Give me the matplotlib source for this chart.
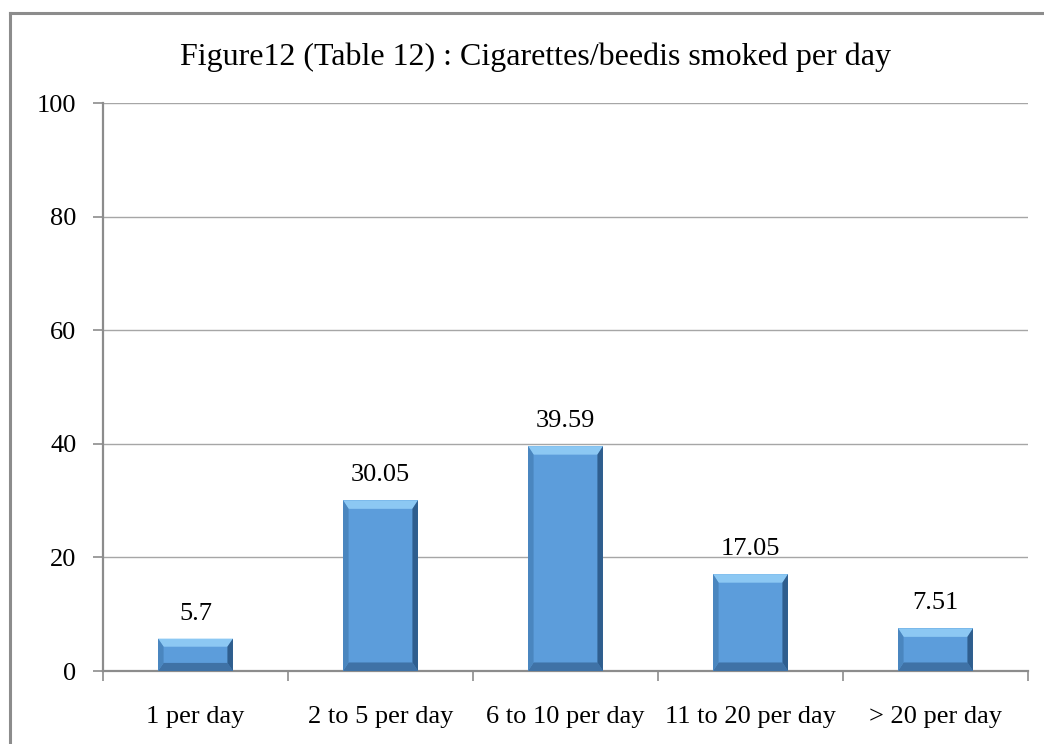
import matplotlib.pyplot as plt
from matplotlib.patches import Polygon
from matplotlib.lines import Line2D

categories = ['1 per day', '2 to 5 per day', '6 to 10 per day', '11 to 20 per day', '> 20 per day']
values = [5.7, 30.05, 39.59, 17.05, 7.51]
title = 'Figure12 (Table 12) : Cigarettes/beedis smoked per day'

plt.rcParams['font.family'] = ['Liberation Serif', 'DejaVu Serif']

fig = plt.figure(figsize=(10.44, 7.44), dpi=100)
ax = fig.add_axes([103/1044, 1 - 671/744, 925/1044, 568/744])

# chart frame (only left and top edges fall inside the image)
fig.add_artist(Line2D([10/1044, 10/1044], [0, 1 - 13/744], color='#8c8c8c', lw=2.2,
                      transform=fig.transFigure))
fig.add_artist(Line2D([10/1044, 1], [1 - 13/744, 1 - 13/744], color='#8c8c8c', lw=2.2,
                      transform=fig.transFigure))

fig.text(535/1044, 1 - 57/744, title, ha='center', va='center', fontsize=23)

ax.set_xlim(0, 5)
ax.set_ylim(0, 100)
ax.set_yticks(range(0, 101, 20))
ax.yaxis.grid(True, color='#a6a6a6', lw=1)
ax.set_axisbelow(True)
for s in ['top', 'right']:
    ax.spines[s].set_visible(False)
for s in ['left', 'bottom']:
    ax.spines[s].set_color('#8c8c8c')
    ax.spines[s].set_linewidth(1.6)

ax.set_xticks(range(6))
ax.set_xticklabels([])
ax.set_xticks([i + 0.5 for i in range(5)], minor=True)
ax.set_xticklabels(categories, minor=True, fontsize=19)
ax.tick_params(axis='x', which='minor', length=0, pad=25)
ax.tick_params(axis='x', which='major', length=7, width=1.2, color='#8c8c8c')
ax.tick_params(axis='y', length=7, width=1.2, color='#8c8c8c', labelsize=19, pad=12)

# bevelled bars
w = 0.405
bx = 0.03
by = 1.5
face = '#5c9ddb'
for i, v in enumerate(values):
    x0 = i + 0.5 - w / 2
    x1 = i + 0.5 + w / 2
    h = min(by, v / 4)
    ax.add_patch(Polygon([(x0, 0), (x1, 0), (x1, v), (x0, v)], closed=True,
                         facecolor=face, edgecolor='none', zorder=3))
    # top, bottom, left, right bevels
    ax.add_patch(Polygon([(x0, v), (x1, v), (x1 - bx, v - h), (x0 + bx, v - h)],
                         facecolor='#8cc8f3', edgecolor='none', zorder=4))
    ax.add_patch(Polygon([(x0, 0), (x1, 0), (x1 - bx, h), (x0 + bx, h)],
                         facecolor='#3f72a6', edgecolor='none', zorder=4))
    ax.add_patch(Polygon([(x0, 0), (x0 + bx, h), (x0 + bx, v - h), (x0, v)],
                         facecolor='#4a86bf', edgecolor='none', zorder=4))
    ax.add_patch(Polygon([(x1, 0), (x1 - bx, h), (x1 - bx, v - h), (x1, v)],
                         facecolor='#2f5e8e', edgecolor='none', zorder=4))
    ax.annotate(f'{v:g}', (i + 0.5, v), xytext=(0, 10), textcoords='offset points',
                ha='center', va='bottom', fontsize=19)

fig.savefig('out.png', dpi=100)
